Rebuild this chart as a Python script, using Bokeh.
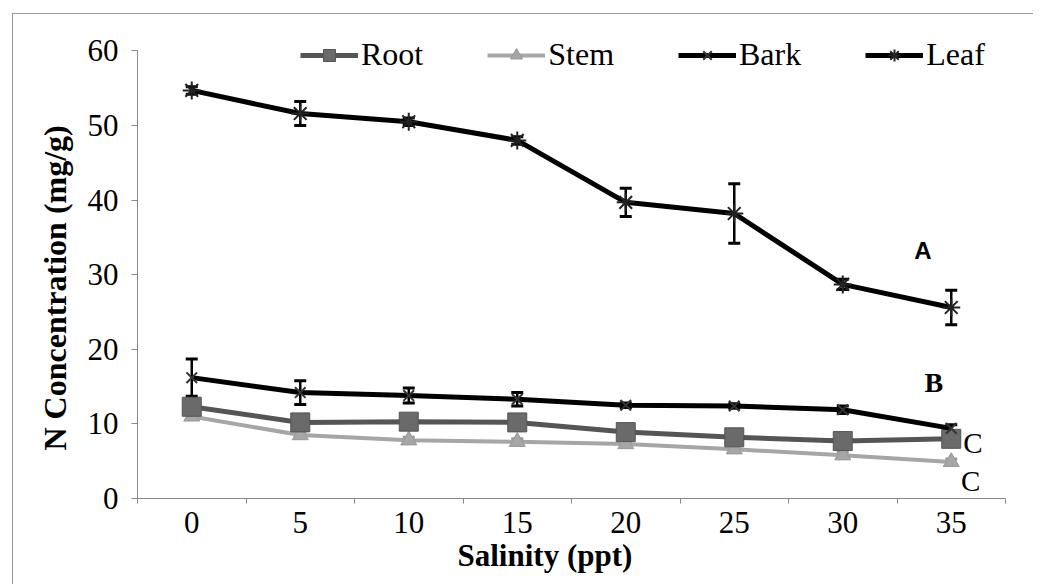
from bokeh.plotting import figure
from bokeh.models import (FixedTicker, Label, Whisker, TeeHead, ColumnDataSource,
                          Legend, LegendItem, Title)
from bokeh.embed import file_html
from bokeh.resources import INLINE

salinity = [0, 5, 10, 15, 20, 25, 30, 35]
root = [12.3, 10.2, 10.3, 10.2, 8.9, 8.2, 7.7, 8.0]
root_err = [1.0, 0.5, 0.5, 0.5, 0.8, 0.5, 0.5, 0.5]
stem = [11.0, 8.5, 7.8, 7.6, 7.3, 6.6, 5.8, 4.9]
stem_err = [0.4, 0.4, 0.4, 0.4, 0.4, 0.4, 0.4, 0.4]
bark = [16.2, 14.2, 13.8, 13.3, 12.5, 12.4, 11.9, 9.4]
bark_err = [2.5, 1.6, 1.0, 0.9, 0.3, 0.3, 0.5, 0.5]
leaf = [54.7, 51.6, 50.5, 48.0, 39.7, 38.2, 28.7, 25.6]
leaf_err = [0.5, 1.6, 0.5, 0.5, 1.9, 4.0, 0.7, 2.3]

letters = ["A", "B", "C", "C"]
letter_x = [33.7, 34.2, 36.0, 35.9]
letter_y = [33.2, 15.5, 7.5, 2.4]

FONT = "Liberation Serif"

p = figure(width=1021, height=571, output_backend="svg", toolbar_location=None,
           x_range=(-2.5, 37.5), y_range=(0, 63),
           min_border_left=124, min_border_right=29, min_border_top=14,
           min_border_bottom=87)
p.styles = {"margin-left": "12px", "margin-top": "13px",
            "border-left": "1px solid #999999", "border-top": "1px solid #999999"}
p.outline_line_color = None
p.xgrid.visible = False
p.ygrid.visible = False
p.background_fill_color = "white"
p.border_fill_color = "white"

# axes
p.xaxis.ticker = FixedTicker(ticks=salinity,
                             minor_ticks=[s - 2.5 for s in salinity] + [37.5])
p.xaxis.major_tick_out = 0
p.xaxis.major_tick_in = 0
p.xaxis.minor_tick_out = 5
p.xaxis.minor_tick_in = 0
p.xaxis.minor_tick_line_color = "#888888"
p.yaxis.ticker = FixedTicker(ticks=[0, 10, 20, 30, 40, 50, 60])
p.yaxis.bounds = (0, 60)
p.yaxis.major_tick_out = 6
p.yaxis.major_tick_in = 0
p.yaxis.minor_tick_line_color = None
for ax in (p.xaxis, p.yaxis):
    ax.axis_line_color = "#888888"
    ax.axis_line_width = 1
    ax.major_tick_line_color = "#888888"
    ax.major_label_text_font = FONT
    ax.major_label_text_font_size = "31px"
    ax.major_label_text_color = "black"
p.xaxis.major_label_standoff = 8
p.yaxis.major_label_standoff = 13

# axis titles, placed off-centre as in the original
yt = Title(text="N Concentration (mg/g)", align="left", offset=48, standoff=24,
           text_font=FONT, text_font_size="32px", text_font_style="bold",
           text_color="black")
p.add_layout(yt, "left")
xt = Title(text="Salinity (ppt)", align="left", offset=320, standoff=0,
           text_font=FONT, text_font_size="31px", text_font_style="bold",
           text_color="black")
p.add_layout(xt, "below")

src = ColumnDataSource(dict(x=salinity, root=root, stem=stem, bark=bark, leaf=leaf,
                            rl=[v - e for v, e in zip(root, root_err)],
                            ru=[v + e for v, e in zip(root, root_err)],
                            sl=[v - e for v, e in zip(stem, stem_err)],
                            su=[v + e for v, e in zip(stem, stem_err)],
                            bl=[v - e for v, e in zip(bark, bark_err)],
                            bu=[v + e for v, e in zip(bark, bark_err)],
                            ll=[v - e for v, e in zip(leaf, leaf_err)],
                            lu=[v + e for v, e in zip(leaf, leaf_err)]))

# Stem
stem_c = "#a6a6a6"
l_stem = p.line("x", "stem", source=src, line_color=stem_c, line_width=4)
m_stem = p.scatter("x", "stem", source=src, marker="triangle", size=16,
                   fill_color=stem_c, line_color="#999999")
# Root
root_c = "#555555"
l_root = p.line("x", "root", source=src, line_color=root_c, line_width=5)
m_root = p.scatter("x", "root", source=src, marker="square", size=19,
                   fill_color="#6a6a6a", line_color="#555555")
# Bark
l_bark = p.line("x", "bark", source=src, line_color="black", line_width=5)
m_bark = p.scatter("x", "bark", source=src, marker="x", size=15,
                   line_color="#333333", line_width=2)
# Leaf
l_leaf = p.line("x", "leaf", source=src, line_color="black", line_width=5)
m_leaf = p.scatter("x", "leaf", source=src, marker="asterisk", size=18,
                   line_color="#222222", line_width=2)

for lo, up, col in (("sl", "su", "#999999"), ("rl", "ru", "#333333"),
                    ("bl", "bu", "black"), ("ll", "lu", "black")):
    w = Whisker(base="x", lower=lo, upper=up, source=src, line_color=col,
                line_width=2.5,
                upper_head=TeeHead(size=12, line_color=col, line_width=3),
                lower_head=TeeHead(size=12, line_color=col, line_width=3))
    p.add_layout(w)

legend = Legend(items=[
    LegendItem(label="Root", renderers=[l_root, m_root]),
    LegendItem(label="Stem", renderers=[l_stem, m_stem]),
    LegendItem(label="Bark", renderers=[l_bark, m_bark]),
    LegendItem(label="Leaf", renderers=[l_leaf, m_leaf]),
], orientation="horizontal", location=(163, 425))
legend.background_fill_alpha = 0
legend.border_line_color = None
legend.padding = 0
legend.margin = 0
legend.spacing = 64
legend.glyph_width = 58
legend.glyph_height = 30
legend.label_standoff = 3
legend.label_text_font = FONT
legend.label_text_font_size = "32px"
legend.label_text_color = "black"
p.add_layout(legend, "center")

for t, x, y in zip(letters, letter_x, letter_y):
    if t == "A":
        font, size, style = "Liberation Sans", "24px", "bold"
    elif t == "B":
        font, size, style = FONT, "28px", "bold"
    else:
        font, size, style = FONT, "29px", "normal"
    p.add_layout(Label(x=x, y=y, text=t, text_font=font, text_font_size=size,
                       text_font_style=style, text_align="center",
                       text_baseline="middle", text_color="black"))

open("out.html", "w").write(file_html(p, INLINE))
